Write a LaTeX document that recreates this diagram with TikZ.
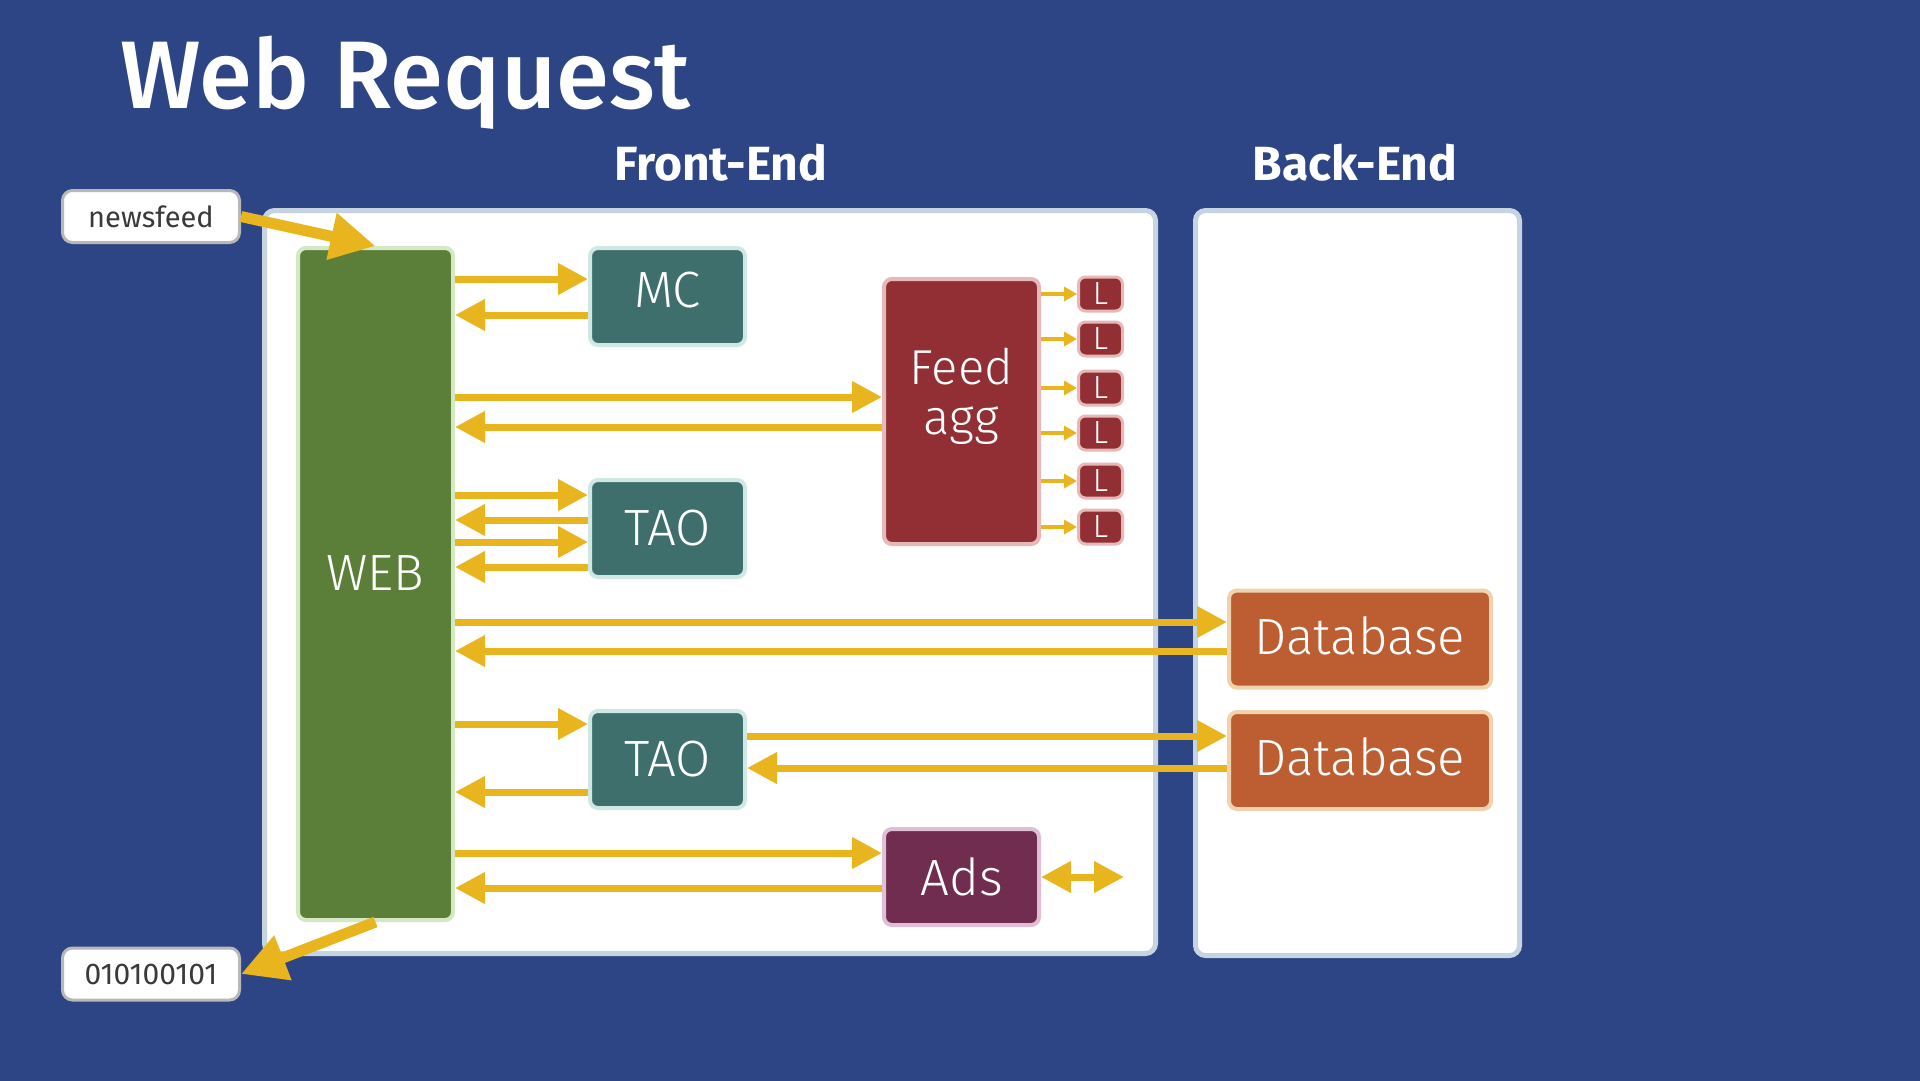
\documentclass[tikz,border=0pt]{standalone}
\usepackage{fontspec}
\setmainfont{Fira Sans}
\newfontfamily\titlefont{Fira Sans Medium}
\newfontfamily\lightfont{Fira Sans Light}
\usepackage{xcolor}
\usetikzlibrary{positioning,arrows.meta}
\definecolor{slidebg}{RGB}{45,68,133}
\definecolor{panelline}{RGB}{198,212,226}
\definecolor{flowyellow}{RGB}{232,181,30}
\definecolor{webgreen}{RGB}{91,127,57}
\definecolor{webedge}{RGB}{211,232,195}
\definecolor{cacheteal}{RGB}{63,111,109}
\definecolor{cacheedge}{RGB}{207,232,227}
\definecolor{feedred}{RGB}{145,47,53}
\definecolor{feededge}{RGB}{230,184,184}
\definecolor{adsplum}{RGB}{112,45,79}
\definecolor{adsedge}{RGB}{223,191,211}
\definecolor{dborange}{RGB}{188,94,49}
\definecolor{dbedge}{RGB}{240,211,174}
\definecolor{pillline}{RGB}{184,184,184}
\definecolor{pilltext}{RGB}{58,58,58}
\tikzset{
    panel/.style={rectangle, draw=panelline, line width=5pt, fill=white, rounded corners=10pt, inner sep=0pt},
    panel label/.style={anchor=base, text=white, font=\fontsize{48}{48}\selectfont\bfseries},
    block/.style={rectangle, rounded corners=8pt, line width=4pt, inner sep=0pt, text=white, font=\fontsize{51}{51}\lightfont, minimum width=155pt},
    web block/.style={block, fill=webgreen, draw=webedge},
    cache block/.style={block, fill=cacheteal, draw=cacheedge, minimum height=97pt},
    feed block/.style={block, fill=feedred, draw=feededge, align=center, font=\fontsize{49}{50}\lightfont},
    leaf block/.style={rectangle, rounded corners=7pt, line width=3pt, inner sep=0pt, fill=feedred, draw=feededge, text=white, font=\fontsize{32}{32}\lightfont, minimum width=44pt, minimum height=34pt},
    ads block/.style={block, fill=adsplum, draw=adsedge, minimum height=96pt},
    db block/.style={block, fill=dborange, draw=dbedge, minimum width=262pt, minimum height=97pt},
    pill/.style={rectangle, rounded corners=10pt, line width=3pt, draw=pillline, fill=white, text=pilltext, inner sep=0pt, minimum width=177pt, minimum height=52pt},
    flow/.style={draw=flowyellow, line width=7pt, -{Triangle[length=30pt, width=30pt]}},
    small flow/.style={draw=flowyellow, line width=4pt, -{Triangle[length=13pt, width=14pt]}},
    big flow/.style={draw=flowyellow, line width=11pt, -{Triangle[length=45pt, width=45pt]}},
    both flow/.style={draw=flowyellow, line width=7pt, {Triangle[length=30pt, width=30pt]}-{Triangle[length=30pt, width=30pt]}}
}

\begin{document}
\begin{tikzpicture}[x=1pt, y=-1pt]
    % Slide background
    \useasboundingbox (0,0) rectangle (1920,1080);
    \fill[slidebg] (-10,-10) rectangle (1930,1090);

    % Title and column headings
    \node[anchor=base west, inner sep=0pt, text=white, font=\fontsize{96}{96}\titlefont] (title) at (120,108) {Web Request};
    \node[panel label] (frontlabel) at (721,180) {Front-End};
    \node[panel label] (backlabel) at (1355,180) {Back-End};

    % Panels
    \node[panel, minimum width=891pt, minimum height=743pt] (front) at (710,582) {};
    \node[panel, minimum width=324pt, minimum height=745pt] (back) at (1357.5,583) {};

    % Front-end servers
    \node[web block, minimum height=672pt, text height=35pt, text depth=22pt] (web) at (375.5,584) {WEB};
    \node[cache block, text height=35pt, text depth=14pt] (mc) at (667.5,296.5) {MC};
    \node[cache block] (tao1) at (667.5,528.5) {TAO};
    \node[cache block] (tao2) at (667.5,759.5) {TAO};
    \node[feed block, minimum height=265pt, text depth=40pt] (feed) at (961.5,411.5) {Feed\\agg};
    \node[ads block] (ads) at (961.5,877) {Ads};

    % Leaf servers of the aggregator
    \foreach \i/\y in {1/294, 2/339, 3/388, 4/433, 5/481, 6/527} {
        \node[leaf block] (leaf\i) at (1100.5,\y) {L};
        \draw[small flow] (feed.east |- 0,\y) -- (leaf\i.west);
    }

    % Back-end databases
    \node[db block, text height=35pt, text depth=5pt] (db1) at (1360,639) {Database};
    \node[db block, text height=35pt, text depth=5pt] (db2) at (1360,760.5) {Database};

    % Request and response
    \node[pill, font=\fontsize{29}{29}\selectfont] (newsfeed) at (151,216.5) {newsfeed};
    \node[pill, font=\fontsize{30}{30}\selectfont] (bits) at (151,974) {010100101};
    \draw[big flow] (newsfeed.east) -- (web.north);
    \draw[big flow] (web.south) -- (bits.east);

    % WEB <-> MC
    \draw[flow] (web.east |- 0,279) -- (mc.west |- 0,279);
    \draw[flow] (mc.west |- 0,315) -- (web.east |- 0,315);

    % WEB <-> Feed agg
    \draw[flow] (web.east |- 0,397) -- (feed.west |- 0,397);
    \draw[flow] (feed.west |- 0,427) -- (web.east |- 0,427);

    % WEB <-> TAO (two round trips)
    \draw[flow] (web.east |- 0,495) -- (tao1.west |- 0,495);
    \draw[flow] (tao1.west |- 0,520) -- (web.east |- 0,520);
    \draw[flow] (web.east |- 0,542) -- (tao1.west |- 0,542);
    \draw[flow] (tao1.west |- 0,567) -- (web.east |- 0,567);

    % WEB <-> Database
    \draw[flow] (web.east |- 0,622) -- (db1.west |- 0,622);
    \draw[flow] (db1.west |- 0,651) -- (web.east |- 0,651);

    % WEB <-> TAO <-> Database
    \draw[flow] (web.east |- 0,724) -- (tao2.west |- 0,724);
    \draw[flow] (tao2.west |- 0,792) -- (web.east |- 0,792);
    \draw[flow] (tao2.east |- 0,736) -- (db2.west |- 0,736);
    \draw[flow] (db2.west |- 0,768) -- (tao2.east |- 0,768);

    % WEB <-> Ads
    \draw[flow] (web.east |- 0,853) -- (ads.west |- 0,853);
    \draw[flow] (ads.west |- 0,888) -- (web.east |- 0,888);
    \coordinate (adsout) at (1124,877);
    \draw[both flow] (ads.east) -- (adsout);
\end{tikzpicture}
\end{document}
